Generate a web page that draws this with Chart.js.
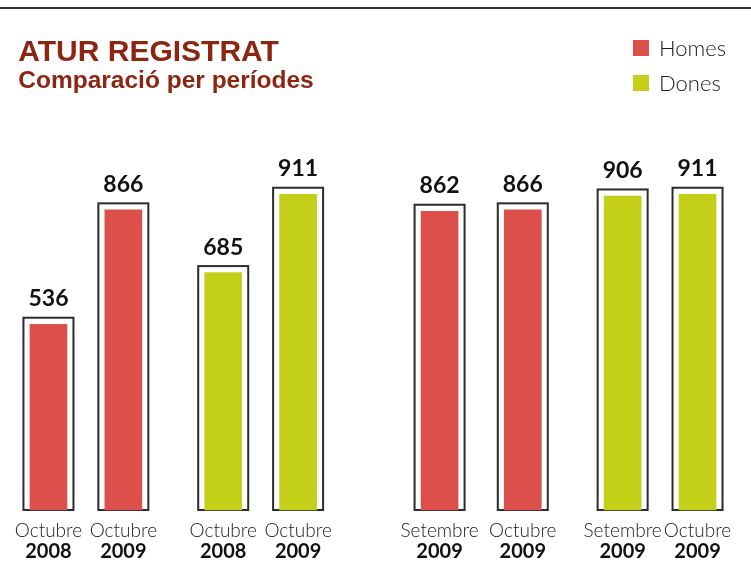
<!DOCTYPE html>
<html>
<head>
<meta charset="utf-8">
<title>Atur registrat</title>
<script src="https://cdn.jsdelivr.net/npm/chart.js@4/dist/chart.umd.min.js"></script>
<style>
  html, body { margin: 0; padding: 0; background: #fff; }
  #wrap { position: relative; width: 751px; height: 587px; }
</style>
</head>
<body>
<div id="wrap"><canvas id="aturChart"></canvas></div>
<script>
const months = ['Octubre', 'Octubre', 'Octubre', 'Octubre', 'Setembre', 'Octubre', 'Setembre', 'Octubre'];
const years = ['2008', '2009', '2008', '2009', '2009', '2009', '2009', '2009'];
const homes = [536, 866, null, null, 862, 866, null, null];
const dones = [null, null, 685, 911, null, null, 906, 911];
const seriesNames = ['Homes', 'Dones'];
const seriesColors = ['#dc4f4b', '#c3cf19'];

// layout only: which category slot each bar sits in (the gaps are uneven)
const slotOf = [0, 9, 21, 30, 47, 57, 69, 78];
const nSlots = slotOf[slotOf.length - 1] + 1;
function spread(arr, fill) {
    const out = new Array(nSlots).fill(fill);
    slotOf.forEach((s, i) => { out[s] = arr[i]; });
    return out;
}

const topRule = {
    id: 'topRule',
    beforeDraw(chart) {
        const c = chart.ctx;
        c.save();
        c.fillStyle = '#333';
        c.fillRect(0, 7, chart.width, 2);
        c.restore();
    }
};

// white box with dark outline round every bar, value on top
const barFrames = {
    id: 'barFrames',
    beforeDatasetsDraw(chart) {
        const c = chart.ctx;
        c.save();
        c.fillStyle = '#fff';
        c.strokeStyle = '#2b2b2b';
        c.lineWidth = 2;
        chart.data.datasets.forEach((ds, di) => {
            chart.getDatasetMeta(di).data.forEach((bar, i) => {
                if (ds.data[i] == null) return;
                const half = bar.width / 2 + 6.5;
                const top = bar.y - 6.5;
                c.fillRect(bar.x - half, top, half * 2, bar.base - top);
                c.strokeRect(bar.x - half, top, half * 2, bar.base - top);
            });
        });
        c.restore();
    },
    afterDatasetsDraw(chart) {
        const c = chart.ctx;
        c.save();
        c.fillStyle = '#111';
        c.font = 'bold 23px Lato';
        c.textAlign = 'center';
        c.textBaseline = 'alphabetic';
        chart.data.datasets.forEach((ds, di) => {
            chart.getDatasetMeta(di).data.forEach((bar, i) => {
                if (ds.data[i] == null) return;
                c.fillText(String(ds.data[i]), bar.x, bar.y - 18);
            });
        });
        c.restore();
    }
};

const sideLegend = {
    id: 'sideLegend',
    afterDraw(chart) {
        const c = chart.ctx;
        const x = chart.width - 118;
        c.save();
        c.font = '300 22px Lato';
        c.textBaseline = 'alphabetic';
        chart.data.datasets.forEach((ds, i) => {
            const y = 40 + i * 35;
            c.fillStyle = ds.backgroundColor;
            c.fillRect(x, y, 16, 16);
            c.fillStyle = '#1a1a1a';
            c.fillText(ds.label, x + 26, y + 16);
        });
        c.restore();
    }
};

const ctx = document.getElementById('aturChart').getContext('2d');
const aturChart = new Chart(ctx, {
    type: 'bar',
    data: {
        labels: spread(months, ''),
        datasets: [
            {
                label: seriesNames[0],
                data: spread(homes, null),
                backgroundColor: seriesColors[0],
                barThickness: 37,
                grouped: false,
                clip: false
            },
            {
                label: seriesNames[1],
                data: spread(dones, null),
                backgroundColor: seriesColors[1],
                barThickness: 37,
                grouped: false,
                clip: false
            }
        ]
    },
    options: {
        responsive: true,
        maintainAspectRatio: false,
        animation: false,
        layout: {
            padding: { left: 18.3, right: 49.3, top: 0, bottom: 24 }
        },
        plugins: {
            legend: { display: false },
            tooltip: { enabled: false },
            title: {
                display: true,
                text: 'ATUR REGISTRAT',
                align: 'start',
                color: '#8c2613',
                font: { family: 'Liberation Sans', size: 30, weight: 'bold', lineHeight: 1 },
                padding: { top: 38, bottom: 0 }
            },
            subtitle: {
                display: true,
                text: 'Comparació per períodes',
                align: 'start',
                color: '#8c2613',
                font: { family: 'Liberation Sans', size: 24.5, weight: 'bold', lineHeight: 1 },
                padding: { top: 1, bottom: 69.9 }
            }
        },
        scales: {
            x: {
                weight: 0,
                grid: { display: false, drawTicks: false },
                border: { display: false },
                ticks: {
                    autoSkip: false,
                    maxRotation: 0,
                    minRotation: 0,
                    padding: 11.1,
                    color: '#222',
                    font: { family: 'Lato', size: 19, weight: 300, lineHeight: 1 }
                },
                afterFit(scale) { scale.height = 33; }
            },
            x2: {
                type: 'category',
                labels: spread(years, ''),
                offset: true,
                position: 'bottom',
                weight: 1,
                grid: { display: false, drawTicks: false },
                border: { display: false },
                ticks: {
                    autoSkip: false,
                    maxRotation: 0,
                    minRotation: 0,
                    padding: 0,
                    color: '#111',
                    font: { family: 'Lato', size: 20, weight: 'bold', lineHeight: 0.85 }
                },
                afterFit(scale) { scale.height = 20; }
            },
            y: {
                min: 0,
                max: 1000,
                grid: { display: false },
                border: { display: false },
                ticks: { display: false },
                afterFit(scale) { scale.width = 26; }
            }
        }
    },
    plugins: [topRule, barFrames, sideLegend]
});
</script>
</body>
</html>
